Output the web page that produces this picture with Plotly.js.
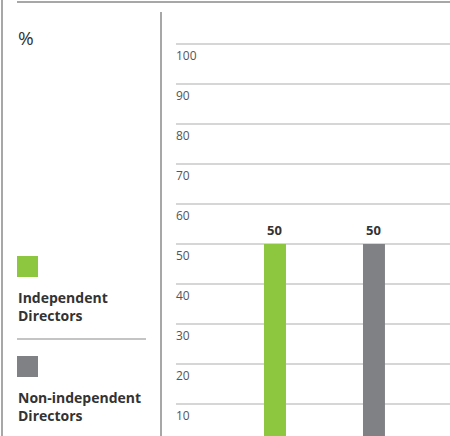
<!DOCTYPE html>
<html><head><meta charset="utf-8">
<script src="https://cdn.plot.ly/plotly-3.0.1.min.js"></script>
<style>html,body{margin:0;padding:0;background:#fff}#chart{width:450px;height:436px}</style>
</head><body><div id="chart"></div>
<script>
const categories = ["Independent Directors", "Non-independent Directors"];
const legendLines = [["Independent", "Directors"], ["Non-independent", "Directors"]];
const values = [50, 50];
const colors = ["#8DC63F", "#808184"];
const yTicks = [10, 20, 30, 40, 50, 60, 70, 80, 90, 100];
const unitLabel = "%";

const W = 450, H = 436;
const px = v => v / W, py = v => 1 - v / H;
const FONT = "Open Sans, sans-serif";

const trace = {
  type: "bar",
  x: categories,
  y: values,
  marker: {color: colors},
  width: 0.222,
  hoverinfo: "none",
  showlegend: false
};

const shapes = [
  {type: "line", xref: "paper", yref: "paper", x0: px(2), x1: px(2), y0: py(0), y1: py(436), line: {color: "#8a8a8a", width: 1.5}},
  {type: "line", xref: "paper", yref: "paper", x0: px(17), x1: px(450), y0: py(2), y1: py(2), line: {color: "#8a8a8a", width: 1.5}},
  {type: "line", xref: "paper", yref: "paper", x0: px(161), x1: px(161), y0: py(12), y1: py(436), line: {color: "#8a8a8a", width: 1.5}},
  {type: "line", xref: "paper", yref: "paper", x0: px(17), x1: px(146), y0: py(339), y1: py(339), line: {color: "#8a8a8a", width: 1.2}}
];
const annotations = [
  {xref: "paper", yref: "paper", x: px(16), y: py(38), xanchor: "left", yanchor: "middle", text: unitLabel, showarrow: false, font: {family: FONT, size: 19, color: "#333"}}
];
// legend blocks
const legendTop = [256, 356];
categories.forEach((c, i) => {
  const t = legendTop[i];
  shapes.push({type: "rect", xref: "paper", yref: "paper", x0: px(17), x1: px(38), y0: py(t), y1: py(t + 21), fillcolor: colors[i], line: {width: 0}});
  annotations.push({xref: "paper", yref: "paper", x: px(16), y: py(t + 30), xanchor: "left", yanchor: "top", align: "left",
    text: "<b>" + legendLines[i].join("<br>") + "</b>", showarrow: false,
    font: {family: FONT, size: 14, color: "#333"}});
});
// value labels
categories.forEach((c, i) => {
  annotations.push({x: c, y: values[i], xref: "x", yref: "y", yanchor: "bottom", yshift: 3, text: "<b>" + values[i] + "</b>", showarrow: false,
    font: {family: FONT, size: 13, color: "#333"}});
});

const layout = {
  width: W, height: H,
  margin: {l: 0, r: 0, t: 0, b: 0},
  paper_bgcolor: "#fff", plot_bgcolor: "#fff",
  xaxis: {domain: [px(176), 1], range: [-1, 1.768], showticklabels: false, showgrid: false, zeroline: false, showline: false, fixedrange: true},
  yaxis: {domain: [0, py(12)], range: [2, 108], tickvals: yTicks, ticktext: yTicks.map(String),
    ticklabelposition: "inside", ticklabelshift: 12, ticklabelstandoff: -3,
    showgrid: true, gridcolor: "#d6d6d6", gridwidth: 1.5, zeroline: false, showline: false,
    tickfont: {family: FONT, size: 12, color: "#555"}, fixedrange: true},
  shapes: shapes,
  annotations: annotations,
  showlegend: false
};
Plotly.newPlot("chart", [trace], layout, {displayModeBar: false, staticPlot: true});
</script></body></html>
